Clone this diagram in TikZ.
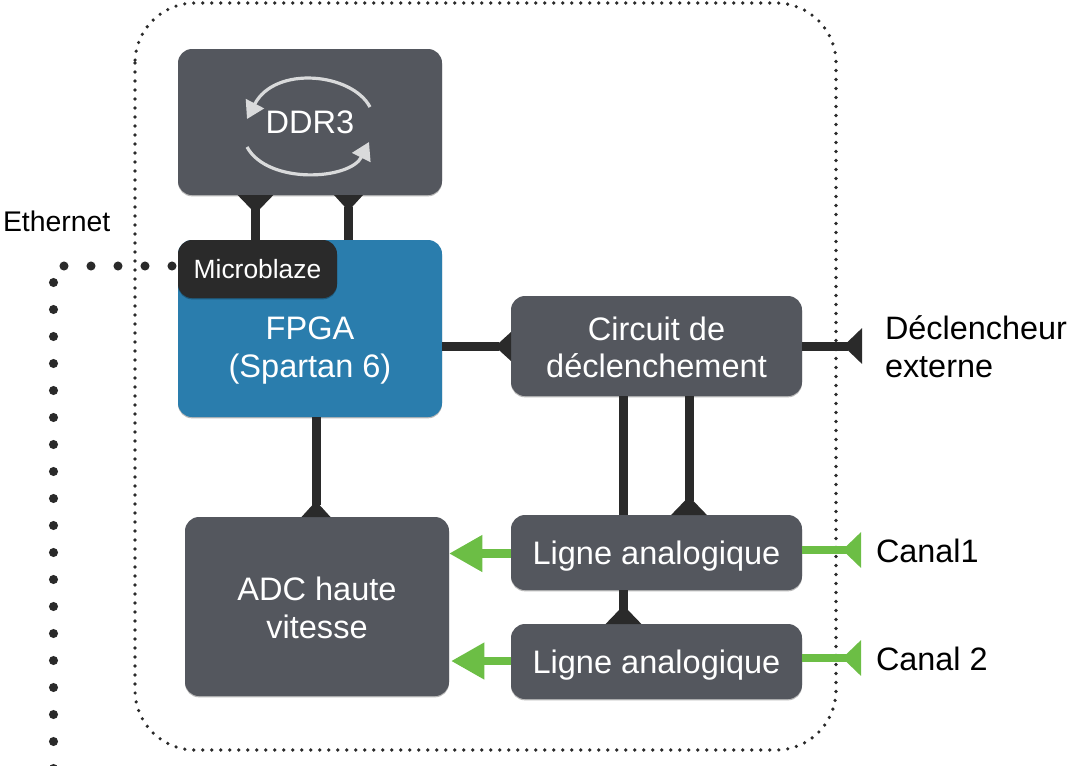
\documentclass[tikz,border=0pt]{standalone}
\usepackage{fontspec}
\setmainfont{Liberation Sans}
\usetikzlibrary{arrows.meta,shadows}
\definecolor{boxgrey}{HTML}{54575E}
\definecolor{fpgablue}{HTML}{2A7DAD}
\definecolor{wiredark}{HTML}{2A2A2A}
\definecolor{wiregreen}{HTML}{6CBE45}
\definecolor{arcgrey}{HTML}{D9DADB}
\newcommand{\liftline}[1]{\rule{0pt}{#1}}
\tikzset{
  x=0.75pt,y=-0.75pt,
  card/.style={rectangle,rounded corners=10.5pt,inner sep=0pt,outer sep=0pt,fill=boxgrey,text=white,align=center,
    font=\fontsize{24.4}{28.2}\selectfont,
    drop shadow={shadow xshift=0pt,shadow yshift=-1pt,opacity=.28,fill=black}},
  label/.style={inner sep=0pt,outer sep=0pt,text=black,font=\fontsize{24.3}{28.2}\selectfont,align=left,anchor=west},
  wire/.style={draw=wiredark,line width=6.75pt},
  gwire/.style={draw=wiregreen,line width=6.6pt},
  wide/.style={-{Triangle[reversed,length=14pt,width=26pt,sep=0pt]}},
  narrow/.style={-{Triangle[reversed,length=12pt,width=21pt,sep=0pt]}},
  bigtip/.style={-{Triangle[length=25pt,width=26pt,sep=0pt]}},
  frame/.style={draw=wiredark,line width=2.7pt,line cap=round,dash pattern=on 0pt off 6.75pt,rounded corners=45pt},
  bigdots/.style={draw=wiredark,line width=6.8pt,line cap=round,dash pattern=on 0pt off 20.25pt,dash phase=15.75pt},
  arc/.style={draw=arcgrey,line width=2.4pt,-{Triangle[length=13pt,width=15pt,sep=0pt]}},
}
\begin{document}
\begin{tikzpicture}
\useasboundingbox (0,0) rectangle (1073,765);
\draw[frame] (135,3) rectangle (836,750);

\node[card,minimum width=264*0.75pt,minimum height=146*0.75pt] (ddr) at (310,122) {DDR3};
\node[card,fill=fpgablue,minimum width=264*0.75pt,minimum height=177*0.75pt] (fpga) at (310,328.5) {};
\node[inner sep=0pt,text=white,align=center,font=\fontsize{24.4}{28.2}\selectfont] (fpgatext) at (310,350.5) {FPGA\\(Spartan 6)};
\node[card,fill=wiredark,minimum width=159*0.75pt,minimum height=58*0.75pt,font=\fontsize{19.8}{23}\selectfont] (ub) at (257.5,269) {Microblaze};
\node[card,minimum width=291*0.75pt,minimum height=100*0.75pt] (trig) at (656.5,346) {\liftline{20pt}Circuit de\\déclenchement};
\node[card,minimum width=264*0.75pt,minimum height=179*0.75pt] (adc) at (317,606.5) {\liftline{19.5pt}ADC haute\\vitesse};
\node[card,minimum width=291*0.75pt,minimum height=75*0.75pt] (l1) at (656.5,552.5) {\liftline{22.7pt}Ligne analogique};
\node[card,minimum width=291*0.75pt,minimum height=75*0.75pt] (l2) at (656.5,661.5) {\liftline{22.7pt}Ligne analogique};

\node[label,font=\fontsize{21.3}{25}\selectfont] (eth) at (3,221) {Ethernet};
\node[label] (ext) at (885,346.5) {Déclencheur\\externe};
\node[label] (c1) at (876,551) {Canal1};
\node[label] (c2) at (876,658.5) {Canal 2};

\coordinate (xa) at (255.5,0);
\coordinate (xb) at (348.5,0);
\coordinate (xc) at (316,0);
\coordinate (xd) at (623.5,0);
\coordinate (xe) at (689,0);
\coordinate (ya) at (0,346.5);
\coordinate (yb) at (0,553.5);
\coordinate (yc) at (0,661);
\coordinate (yd) at (0,550);
\coordinate (ye) at (0,658);
\coordinate (trigend) at (862,346);
\coordinate (c1end) at (861,550);
\coordinate (c2end) at (861,658);
\coordinate (ethstart) at (178,266);
\coordinate (ethcorner) at (53.5,266);
\coordinate (ethend) at (53.5,790);

\draw[wire,wide] (ub.north -| xa) -- (ddr.south -| xa);
\draw[wire,narrow] (fpga.north -| xb) -- (ddr.south -| xb);
\draw[wire,narrow] (fpga.east |- ya) -- (trig.west |- ya);
\draw[wire,wide] (trig.east |- trigend) -- (trigend);
\draw[wire,narrow] (fpga.south -| xc) -- (adc.north -| xc);
\draw[wire] (trig.south -| xd) -- (l1.north -| xd);
\draw[wire,wide] (trig.south -| xe) -- (l1.north -| xe);
\draw[wire,wide] (l1.south -| xd) -- (l2.north -| xd);

\draw[gwire,bigtip] (l1.west |- yb) -- (adc.east |- yb);
\draw[gwire,bigtip] (l2.west |- yc) -- ([xshift=1.5pt]adc.east |- yc);
\draw[gwire,wide] (l1.east |- yd) -- (c1end);
\draw[gwire,wide] (l2.east |- ye) -- (c2end);

\draw[bigdots] (ethstart) -- (ethcorner) -- (ethend);

\draw[arc] (370,107) .. controls (352,73) and (275,65) .. (247,119);
\draw[arc] (247,147) .. controls (268,185) and (350,180) .. (369,142);
\end{tikzpicture}
\end{document}
